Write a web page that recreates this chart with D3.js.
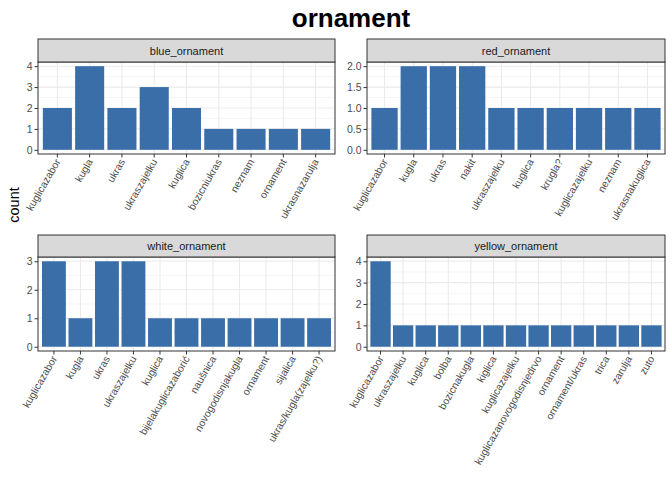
<!DOCTYPE html>
<html><head><meta charset="utf-8">
<script src="https://cdn.jsdelivr.net/npm/d3@7"></script>
<style>body{margin:0;background:#fff}text{font-family:"Liberation Sans",Arial,Helvetica,sans-serif}</style>
</head><body><svg id="c" width="672" height="480"></svg>
<script>
const blueCats = ["kuglicazabor","kugla","ukras","ukraszajelku","kuglica","bozicniukras","neznam","ornament","ukrasnazarulja"];
const blueVals = [2,4,2,3,2,1,1,1,1];
const redCats = ["kuglicazabor","kugla","ukras","nakit","ukraszajelku","kuglica","krugla?","kuglicazajelku","neznam","ukrasnakuglica"];
const redVals = [1,2,2,2,1,1,1,1,1,1];
const whiteCats = ["kuglicazabor","kugla","ukras","ukraszajelku","kuglica","bijelakuglicazaborić","naušnica","novogodisnjakugla","ornament","sijalica","ukras/kugla(zajelku?)"];
const whiteVals = [3,1,3,3,1,1,1,1,1,1,1];
const yellowCats = ["kuglicazabor","ukraszajelku","kuglica","bolba","bozicnakugla","kiglica","kuglicazajelku","kuglicazanovogodisnjedrvo","ornament","ornament/ukras","trica","zarulja","zuto"];
const yellowVals = [4,1,1,1,1,1,1,1,1,1,1,1,1];
const blueTicks = [0,1,2,3,4];
const redTicks = [0,0.5,1,1.5,2];
const whiteTicks = [0,1,2,3];
const yellowTicks = [0,1,2,3,4];

const panels = [
  {name:"blue_ornament", cats:blueCats, vals:blueVals, ticks:blueTicks, x0:38, x1:335, s0:39, p0:62, p1:154},
  {name:"red_ornament", cats:redCats, vals:redVals, ticks:redTicks, x0:367, x1:665, s0:39, p0:62, p1:154},
  {name:"white_ornament", cats:whiteCats, vals:whiteVals, ticks:whiteTicks, x0:38, x1:335, s0:235, p0:257, p1:351},
  {name:"yellow_ornament", cats:yellowCats, vals:yellowVals, ticks:yellowTicks, x0:367, x1:665, s0:235, p0:257, p1:351}
];
const svg = d3.select("#c");
const barColor = "#3a6ea8";

svg.append("text").attr("x",351).attr("y",27).attr("text-anchor","middle")
  .attr("font-size",26).attr("font-weight","bold").attr("fill","#000").text("ornament");
svg.append("text").attr("transform","translate(19,205) rotate(-90)").attr("text-anchor","middle")
  .attr("font-size",14.5).attr("fill","#000").text("count");

panels.forEach(p => {
  const g = svg.append("g");
  const n = p.cats.length;
  const ymax = d3.max(p.ticks);
  const exp = ymax*0.05;
  const y = d3.scaleLinear().domain([-exp, ymax+exp]).range([p.p1, p.p0]);
  const xl = d3.scaleLinear().domain([0.4, n+0.6]).range([p.x0, p.x1]);
  const x = d3.scaleBand().domain(p.cats).range([xl(0.5), xl(n+0.5)]).paddingInner(0.1).paddingOuter(0.05);
  g.append("rect").attr("x",p.x0).attr("y",p.p0).attr("width",p.x1-p.x0).attr("height",p.p1-p.p0).attr("fill","#fff");
  const step = p.ticks[1]-p.ticks[0];
  const minors = p.ticks.slice(0,-1).map(t=>t+step/2);
  g.selectAll(".mn").data(minors).enter().append("line")
    .attr("x1",p.x0).attr("x2",p.x1).attr("y1",d=>y(d)).attr("y2",d=>y(d))
    .attr("stroke","#f0f0f0").attr("stroke-width",0.6);
  g.selectAll(".mj").data(p.ticks).enter().append("line")
    .attr("x1",p.x0).attr("x2",p.x1).attr("y1",d=>y(d)).attr("y2",d=>y(d))
    .attr("stroke","#ebebeb").attr("stroke-width",1.1);
  g.selectAll(".vx").data(p.cats).enter().append("line")
    .attr("x1",d=>x(d)+x.bandwidth()/2).attr("x2",d=>x(d)+x.bandwidth()/2).attr("y1",p.p0).attr("y2",p.p1)
    .attr("stroke","#ebebeb").attr("stroke-width",1.1);
  g.selectAll(".bar").data(p.cats).enter().append("rect")
    .attr("x",d=>x(d)).attr("width",x.bandwidth())
    .attr("y",(d,i)=>y(p.vals[i])).attr("height",(d,i)=>y(0)-y(p.vals[i]))
    .attr("fill",barColor);
  g.append("rect").attr("x",p.x0).attr("y",p.p0).attr("width",p.x1-p.x0).attr("height",p.p1-p.p0)
    .attr("fill","none").attr("stroke","#333").attr("stroke-width",1);
  g.append("rect").attr("x",p.x0).attr("y",p.s0).attr("width",p.x1-p.x0).attr("height",p.p0-p.s0)
    .attr("fill","#d9d9d9").attr("stroke","#333").attr("stroke-width",1);
  g.append("text").attr("x",(p.x0+p.x1)/2).attr("y",(p.s0+p.p0)/2+4).attr("text-anchor","middle")
    .attr("font-size",11).attr("fill","#1a1a1a").text(p.name);
  const ya = g.append("g").attr("transform",`translate(${p.x0},0)`)
    .call(d3.axisLeft(y).tickValues(p.ticks).tickSize(3.5).tickPadding(2)
      .tickFormat(step<1 ? d3.format(".1f") : d3.format("d")));
  ya.select(".domain").remove();
  ya.selectAll("line").attr("stroke","#333");
  ya.selectAll("text").attr("font-size",10.5).attr("fill","#4d4d4d").style("font-family","'Liberation Sans',Arial,sans-serif");
  const xa = g.append("g").attr("transform",`translate(0,${p.p1})`)
    .call(d3.axisBottom(x).tickSize(3.5).tickPadding(2));
  xa.select(".domain").remove();
  xa.selectAll("line").attr("stroke","#333");
  xa.selectAll("text").attr("font-size",10.3).attr("fill","#4d4d4d")
    .style("font-family","'Liberation Sans',Arial,sans-serif")
    .attr("text-anchor","end").attr("dy",null).attr("y",null)
    .attr("transform","translate(3.5,7.5) rotate(-60)");
});
</script></body></html>
